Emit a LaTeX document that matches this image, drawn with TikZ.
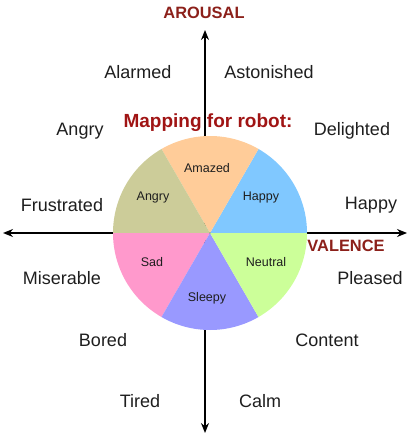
\documentclass[tikz,border=0pt]{standalone}
\usepackage{fontspec}
\setmainfont{Liberation Sans}
\usetikzlibrary{arrows.meta}
\definecolor{axred}{RGB}{140,32,26}
\definecolor{mapred}{RGB}{160,20,20}
\definecolor{txt}{RGB}{30,30,30}
\definecolor{cAmazed}{RGB}{255,204,153}
\definecolor{cHappy}{RGB}{128,200,255}
\definecolor{cAngry}{RGB}{204,204,153}
\definecolor{cSad}{RGB}{255,153,204}
\definecolor{cSleepy}{RGB}{153,153,255}
\definecolor{cNeutral}{RGB}{204,255,153}
\tikzset{
  axis/.style={line width=1.6pt, {Stealth[length=10pt,width=8pt]}-{Stealth[length=10pt,width=8pt]}},
  emo/.style={text=txt, font=\fontsize{18}{20}\selectfont, inner sep=0pt},
  pielab/.style={text=txt, font=\fontsize{12.5}{14}\selectfont, inner sep=0pt},
  axlab/.style={text=axred, font=\fontsize{16.4}{18}\selectfont\bfseries, inner sep=0pt},
}
\begin{document}
\begin{tikzpicture}[x=1pt,y=-1pt]
\useasboundingbox (0,0) rectangle (409,435);
\coordinate (top) at (205,30);
\coordinate (bot) at (205,433);
\coordinate (lft) at (3,233);
\coordinate (rgt) at (407,233);
\draw[axis] (bot) -- (top);
\draw[axis] (lft) -- (rgt);
\coordinate (c) at (210,233);
\def\R{97}
\fill[cHappy]   (c) -- ++(0:\R) arc[start angle=0,end angle=-60,radius=\R] -- cycle;
\fill[cAmazed]  (c) -- ++(-60:\R) arc[start angle=-60,end angle=-120,radius=\R] -- cycle;
\fill[cAngry]   (c) -- ++(-120:\R) arc[start angle=-120,end angle=-180,radius=\R] -- cycle;
\fill[cSad]     (c) -- ++(180:\R) arc[start angle=180,end angle=120,radius=\R] -- cycle;
\fill[cSleepy]  (c) -- ++(120:\R) arc[start angle=120,end angle=60,radius=\R] -- cycle;
\fill[cNeutral] (c) -- ++(60:\R) arc[start angle=60,end angle=0,radius=\R] -- cycle;
\node[pielab] (pAmazed) at (207,168) {Amazed};
\node[pielab] (pAngry) at (153,197) {Angry};
\node[pielab] (pHappy) at (261,197) {Happy};
\node[pielab] (pSad) at (152,262) {Sad};
\node[pielab] (pNeutral) at (266,262) {Neutral};
\node[pielab] (pSleepy) at (207,298) {Sleepy};
\node[axlab] (arousal) at (204,13) {AROUSAL};
\node[axlab] (valence) at (346,246) {VALENCE};
\node[text=mapred, font=\fontsize{19}{21}\selectfont\bfseries, inner sep=0pt] (map) at (208,123) {Mapping for robot:};
\node[emo] (alarmed) at (138,72) {Alarmed};
\node[emo] (astonished) at (269,72) {Astonished};
\node[emo] (angry) at (80,131) {Angry};
\node[emo] (delighted) at (352,131) {Delighted};
\node[emo] (frustrated) at (62,205) {Frustrated};
\node[emo] (happy) at (371,205) {Happy};
\node[emo] (miserable) at (62,278) {Miserable};
\node[emo] (pleased) at (370,278) {Pleased};
\node[emo] (bored) at (103,340) {Bored};
\node[emo] (content) at (327,340) {Content};
\node[emo] (tired) at (140,401) {Tired};
\node[emo] (calm) at (260,401) {Calm};
\end{tikzpicture}
\end{document}
